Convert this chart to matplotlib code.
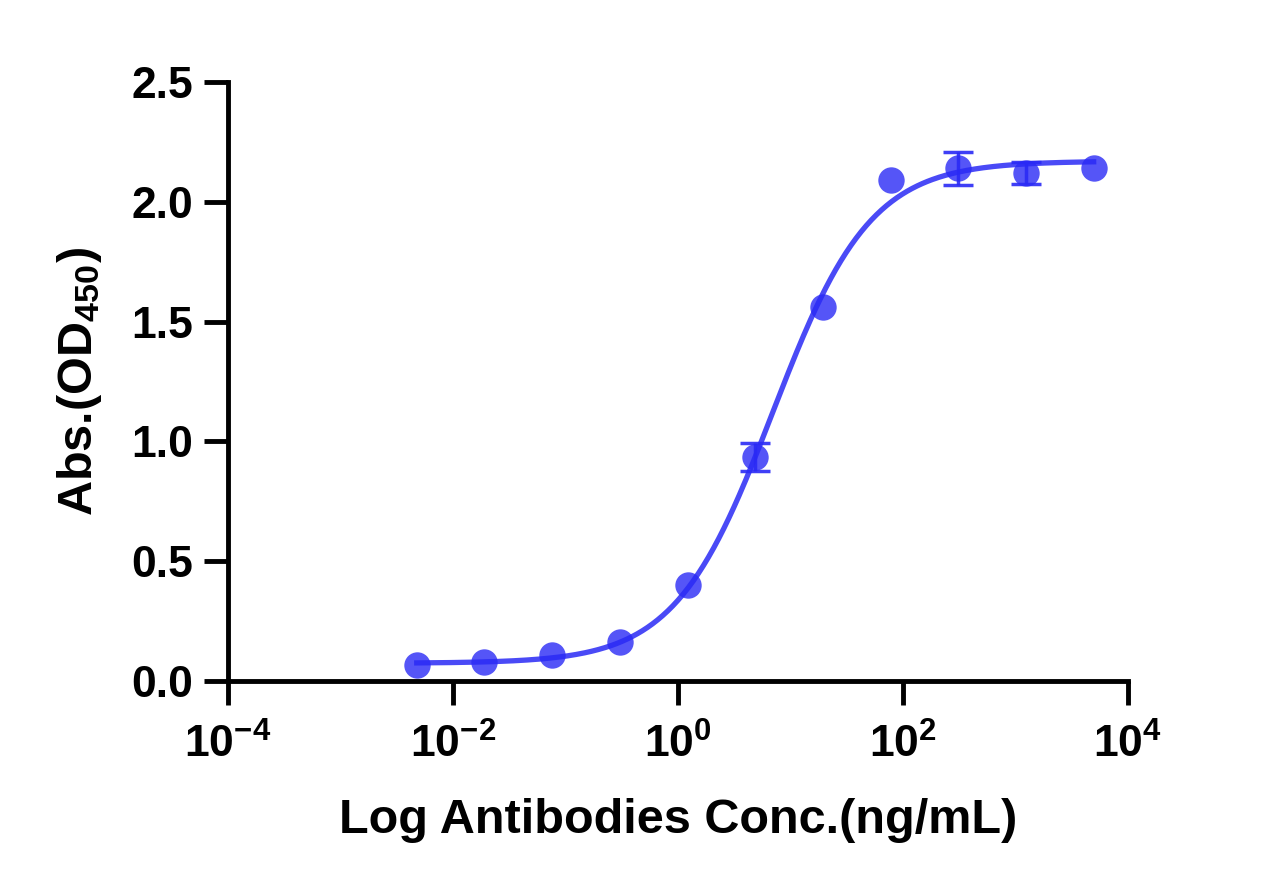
import matplotlib.pyplot as plt
import numpy as np

plt.rcParams['font.family'] = ['Liberation Sans', 'DejaVu Sans']
plt.rcParams['font.weight'] = 'bold'
plt.rcParams['mathtext.fontset'] = 'custom'
plt.rcParams['mathtext.rm'] = 'Liberation Sans:bold'
plt.rcParams['mathtext.bf'] = 'Liberation Sans:bold'
plt.rcParams['mathtext.it'] = 'Liberation Sans:bold'

# concentrations (ng/mL), 4-fold dilution series
conc = [5000, 1250, 312.5, 78.125, 19.53, 4.883, 1.221, 0.3052, 0.0763, 0.01907, 0.004768]
od450 = [2.14, 2.12, 2.14, 2.09, 1.56, 0.935, 0.40, 0.163, 0.11, 0.079, 0.067]
od_err = [0.0, 0.045, 0.07, 0.0, 0.0, 0.06, 0.0, 0.0, 0.0, 0.0, 0.0]

# 4PL fit parameters
bottom, top, ec50, hill = 0.074, 2.17, 7.0, 1.0

xticks = [1e-4, 1e-2, 1e0, 1e2, 1e4]
xticklabels = ['$10^{-4}$', '$10^{-2}$', '$10^{0}$', '$10^{2}$', '$10^{4}$']
yticks = [0.0, 0.5, 1.0, 1.5, 2.0, 2.5]

blue = '#2a2af5'

fig = plt.figure(figsize=(12.69, 8.86), dpi=100)
ax = fig.add_axes([0.1797, 0.2314, 0.7088, 0.676])

xfit = np.logspace(np.log10(min(conc)), np.log10(max(conc)), 400)
yfit = bottom + (top - bottom) / (1 + (ec50 / xfit) ** hill)
ax.plot(xfit, yfit, color=blue, lw=3.8, alpha=0.85, zorder=2)

# error bars only where SD is visible
ex = [c for c, e in zip(conc, od_err) if e > 0]
ey = [v for v, e in zip(od450, od_err) if e > 0]
ee = [e for e in od_err if e > 0]
ax.errorbar(ex, ey, yerr=ee, fmt='none', ecolor=blue, elinewidth=2.5,
            capsize=11, capthick=2.5, alpha=0.9, zorder=3)
ax.plot(conc, od450, 'o', color=blue, ms=19, alpha=0.8, mec='none', zorder=4)

ax.set_xscale('log')
ax.set_xlim(1e-4, 1e4)
ax.set_ylim(0, 2.5)
ax.set_xticks(xticks)
ax.set_xticklabels(xticklabels)
ax.minorticks_off()
ax.set_yticks(yticks)
ax.set_yticklabels([f'{v:.1f}' for v in yticks])

for s in ['top', 'right']:
    ax.spines[s].set_visible(False)
for s in ['left', 'bottom']:
    ax.spines[s].set_linewidth(3.5)
ax.tick_params(axis='both', length=17, width=3.5, labelsize=32)
ax.tick_params(axis='x', pad=14)
ax.tick_params(axis='y', pad=8)

ax.set_xlabel('Log Antibodies Conc.(ng/mL)', fontsize=35, fontweight='bold', labelpad=22)
ax.set_ylabel(r'Abs.(OD$_{450}$)', fontsize=35, fontweight='bold', labelpad=20)

fig.savefig('out.png', dpi=100)
